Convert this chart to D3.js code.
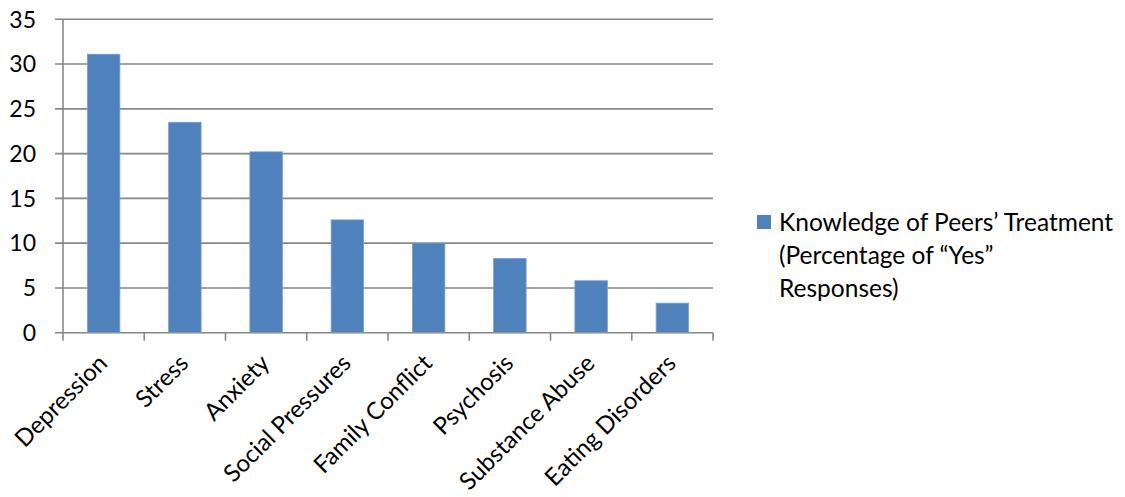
<!DOCTYPE html>
<html>
<head>
<meta charset="utf-8">
<script src="https://cdn.jsdelivr.net/npm/d3@7"></script>
<style>
  body { margin: 0; background: #fff; }
  text { font-family: Lato, "Open Sans", sans-serif; fill: #000; }
</style>
</head>
<body>
<div id="chart"></div>
<script>
// chart data
const categories = ["Depression", "Stress", "Anxiety", "Social Pressures", "Family Conflict",
                    "Psychosis", "Substance Abuse", "Eating Disorders"];
const values = [31.1, 23.5, 20.2, 12.6, 10.0, 8.3, 5.8, 3.3];
const yTicks = [0, 5, 10, 15, 20, 25, 30, 35];
const legendLines = ["Knowledge of Peers\u2019 Treatment", "(Percentage of \u201cYes\u201d", "Responses)"];

const width = 1125, height = 497;
const plotLeft = 63, plotRight = 713, plotTop = 19.3, plotBottom = 332.7;

const svg = d3.select("#chart").append("svg")
    .attr("width", width).attr("height", height);
svg.append("rect").attr("width", width).attr("height", height).attr("fill", "#fff");

const x = d3.scaleBand().domain(categories).range([plotLeft, plotRight])
    .paddingInner(0.6).paddingOuter(0.3);
const xStep = d3.scaleBand().domain(categories).range([plotLeft, plotRight]);
const y = d3.scaleLinear().domain([0, 35]).range([plotBottom, plotTop]);

const gridColor = "#878787";

// horizontal gridlines + ticks
svg.append("g")
    .selectAll("line")
    .data(yTicks)
    .join("line")
    .attr("x1", plotLeft - 8).attr("x2", plotRight)
    .attr("y1", d => y(d)).attr("y2", d => y(d))
    .attr("stroke", gridColor).attr("stroke-width", 1.6);

// y labels
svg.append("g")
    .selectAll("text")
    .data(yTicks)
    .join("text")
    .attr("x", 36).attr("y", d => y(d))
    .attr("dy", "0.36em")
    .attr("text-anchor", "end")
    .style("font-size", "23px")
    .text(d => d);

// y axis line
svg.append("line")
    .attr("x1", plotLeft).attr("x2", plotLeft).attr("y1", plotTop).attr("y2", plotBottom)
    .attr("stroke", gridColor).attr("stroke-width", 1.6);

// bars
svg.append("g")
    .selectAll("rect")
    .data(values)
    .join("rect")
    .attr("x", (d, i) => x(categories[i]))
    .attr("width", x.bandwidth())
    .attr("y", d => y(d))
    .attr("height", d => y(0) - y(d))
    .attr("fill", "#4f81bd")
    .attr("stroke", "#7ba0cf").attr("stroke-width", 0.8);

// x axis ticks (category boundaries)
const boundaries = categories.map(c => xStep(c)).concat([plotRight]);
svg.append("g")
    .selectAll("line")
    .data(boundaries)
    .join("line")
    .attr("x1", d => d).attr("x2", d => d)
    .attr("y1", plotBottom).attr("y2", plotBottom + 8)
    .attr("stroke", gridColor).attr("stroke-width", 1.6);

// x labels rotated
svg.append("g")
    .selectAll("text")
    .data(categories)
    .join("text")
    .attr("transform", d => `translate(${xStep(d) + xStep.bandwidth() / 2 + 5},${plotBottom + 32}) rotate(-45)`)
    .attr("text-anchor", "end")
    .style("font-size", "24px")
    .text(d => d);

// legend
const lg = svg.append("g");
lg.append("rect")
    .attr("x", 757).attr("y", 215).attr("width", 14).attr("height", 14)
    .attr("fill", "#4f81bd");
lg.selectAll("text")
    .data(legendLines)
    .join("text")
    .attr("x", 779)
    .attr("y", (d, i) => 231 + i * 33)
    .style("font-size", "24.5px")
    .text(d => d);
</script>
</body>
</html>
